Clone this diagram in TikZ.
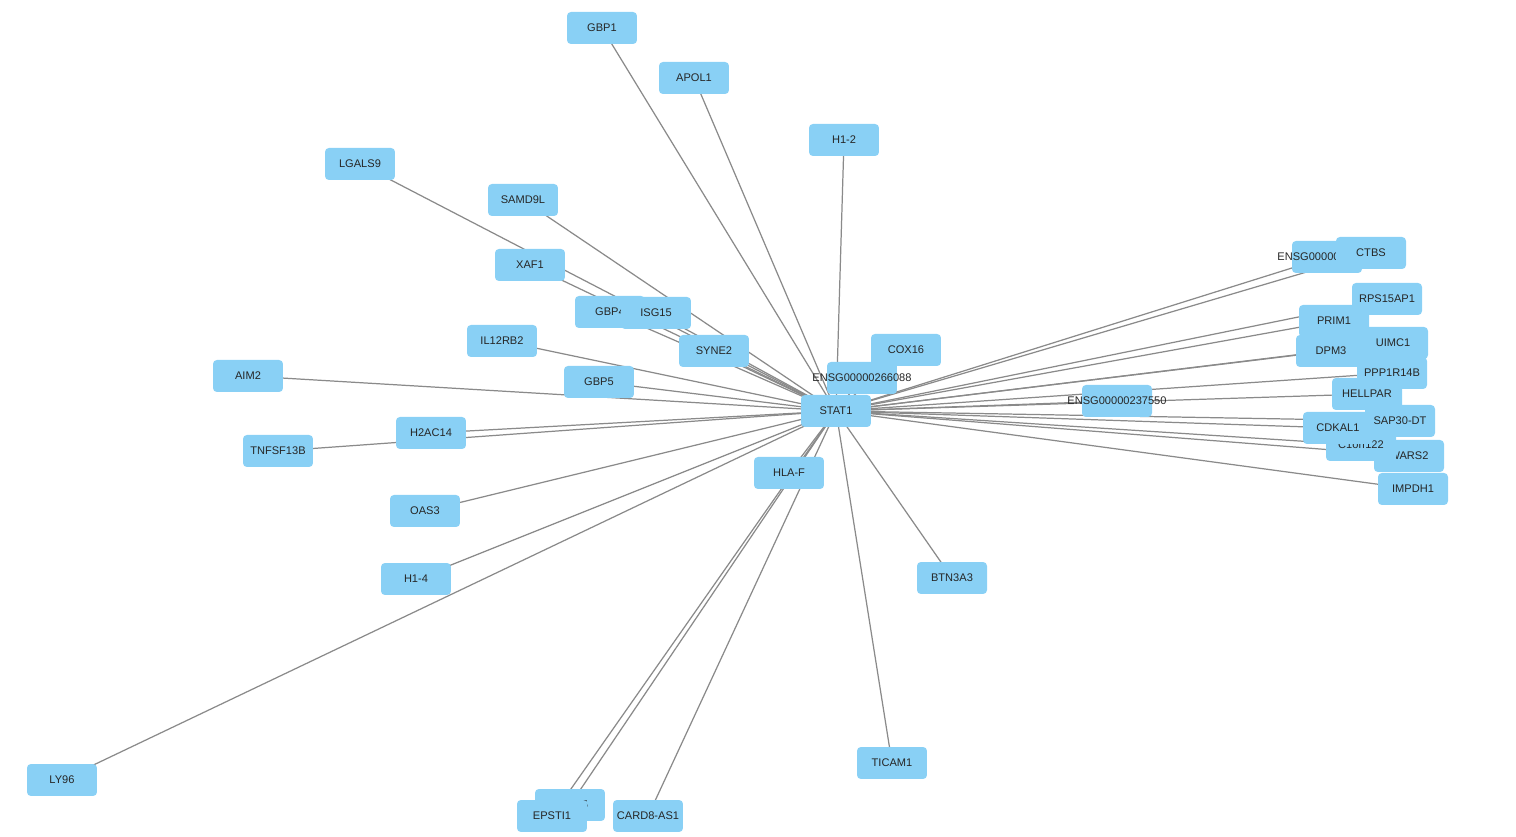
\documentclass[tikz,border=0pt]{standalone}
\usepackage{fontspec}
\setmainfont{Liberation Sans}
\usetikzlibrary{backgrounds}
\definecolor{nodeblue}{HTML}{89D0F5}
\definecolor{edgegray}{HTML}{8A8A8A}

\begin{document}
\begin{tikzpicture}[
  x=0.02cm, y=-0.02cm,
  gene/.style={fill=nodeblue, rounded corners=2.2pt, minimum width=1.4cm, minimum height=0.64cm,
               inner sep=0pt, text=black!85, font=\fontsize{6.3}{7}\selectfont},
  link/.style={draw=edgegray, line width=0.7pt}
]
  \useasboundingbox (0,0) rectangle (1516,837);

  \node[gene] (stat1) at (836,411) {STAT1};

  \node[gene] (gbp1) at (602,28) {GBP1};
  \node[gene] (apol1) at (694,78) {APOL1};
  \node[gene] (h12) at (844,140) {H1-2};
  \node[gene] (lgals9) at (360,164) {LGALS9};
  \node[gene] (samd9l) at (523,200) {SAMD9L};
  \node[gene] (xaf1) at (530,265) {XAF1};
  \node[gene] (gbp4) at (610,312) {GBP4};
  \node[gene] (isg15) at (656,313) {ISG15};
  \node[gene] (il12rb2) at (502,341) {IL12RB2};
  \node[gene] (syne2) at (714,351) {SYNE2};
  \node[gene] (cox16) at (906,350) {COX16};
  \node[gene] (ensgA) at (862,378) {\makebox[0pt]{ENSG00000266088}};
  \node[gene] (aim2) at (248,376) {AIM2};
  \node[gene] (gbp5) at (599,382) {GBP5};
  \node[gene] (h2ac14) at (431,433) {H2AC14};
  \node[gene] (tnfsf13b) at (278,451) {TNFSF13B};
  \node[gene] (hlaf) at (789,473) {HLA-F};
  \node[gene] (oas3) at (425,511) {OAS3};
  \node[gene] (h14) at (416,579) {H1-4};
  \node[gene] (btn3a3) at (952,578) {BTN3A3};
  \node[gene] (ticam1) at (892,763) {TICAM1};
  \node[gene] (ly96) at (62,780) {LY96};
  \node[gene] (nlrc5) at (570,805) {NLRC5};
  \node[gene] (epsti1) at (552,816) {EPSTI1};
  \node[gene] (card8as1) at (648,816) {CARD8-AS1};

  \node[gene] (ensgB) at (1327,257) {\makebox[0pt]{ENSG00000254101}};
  \node[gene] (ctbs) at (1371,253) {CTBS};
  \node[gene] (rps15ap1) at (1387,299) {RPS15AP1};
  \node[gene] (prim1) at (1334,321) {PRIM1};
  \node[gene] (dpm3) at (1331,351) {DPM3};
  \node[gene] (uimc1) at (1393,343) {UIMC1};
  \node[gene] (ppp1r14b) at (1392,373) {PPP1R14B};
  \node[gene] (hellpar) at (1367,394) {HELLPAR};
  \node[gene] (ensgC) at (1117,401) {\makebox[0pt]{ENSG00000237550}};
  \node[gene] (sap30dt) at (1400,421) {SAP30-DT};
  \node[gene] (wars2) at (1409,456) {WARS2};
  \node[gene] (c1orf122) at (1361,445) {C1orf122};
  \node[gene] (cdkal1) at (1338,428) {CDKAL1};
  \node[gene] (impdh1) at (1413,489) {IMPDH1};

  \begin{scope}[on background layer]
    \foreach \g in {gbp1, apol1, h12, lgals9, samd9l, xaf1, gbp4, isg15, il12rb2, syne2,
                    cox16, ensgA, aim2, gbp5, h2ac14, tnfsf13b, hlaf, oas3, h14, btn3a3,
                    ticam1, ly96, nlrc5, epsti1, card8as1, ensgB, ctbs, rps15ap1, prim1,
                    dpm3, uimc1, ppp1r14b, hellpar, ensgC, sap30dt, wars2, c1orf122,
                    cdkal1, impdh1}
      \draw[link] (stat1.center) -- (\g.center);
  \end{scope}
\end{tikzpicture}
\end{document}
